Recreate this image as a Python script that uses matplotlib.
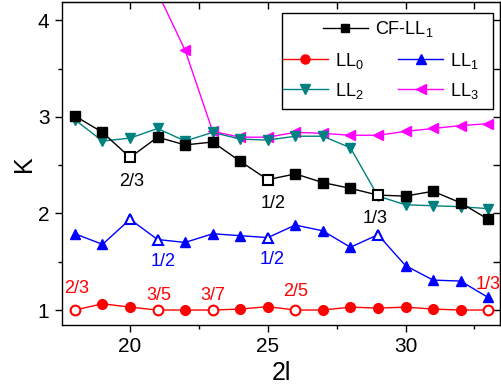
import matplotlib
matplotlib.use("Agg")
import matplotlib.pyplot as plt
from matplotlib.patches import Rectangle
from matplotlib.lines import Line2D
from matplotlib.ticker import MultipleLocator

plt.rcParams['font.family'] = ['Liberation Sans', 'DejaVu Sans']
plt.rcParams['mathtext.default'] = 'regular'

x_cf = [18, 19, 20, 21, 22, 23, 24, 25, 26, 27, 28, 29, 30, 31, 32, 33]
cf_ll1 = [3.01, 2.84, 2.58, 2.79, 2.71, 2.74, 2.54, 2.35, 2.41, 2.32, 2.26, 2.19, 2.18, 2.23, 2.11, 1.94]
cf_open = [20, 25, 29]

x_ll0 = [18, 19, 20, 21, 22, 23, 24, 25, 26, 27, 28, 29, 30, 31, 32, 33]
ll0 = [1.00, 1.065, 1.03, 1.00, 1.00, 1.00, 1.01, 1.035, 1.00, 1.00, 1.03, 1.02, 1.03, 1.01, 1.00, 1.00]
ll0_open = [18, 21, 23, 26, 33]

x_ll1 = [18, 19, 20, 21, 22, 23, 24, 25, 26, 27, 28, 29, 30, 31, 32, 33]
ll1 = [1.79, 1.68, 1.94, 1.73, 1.70, 1.79, 1.77, 1.75, 1.88, 1.82, 1.65, 1.78, 1.46, 1.31, 1.30, 1.13]
ll1_open = [20, 21, 25, 29]

x_ll2 = [18, 19, 20, 21, 22, 23, 24, 25, 26, 27, 28, 29, 30, 31, 32, 33]
ll2 = [2.97, 2.75, 2.78, 2.88, 2.75, 2.84, 2.77, 2.76, 2.80, 2.80, 2.68, 2.18, 2.09, 2.08, 2.07, 2.05]

x_ll3 = [21, 22, 23, 24, 25, 26, 27, 28, 29, 30, 31, 32, 33]
ll3 = [4.29, 3.69, 2.85, 2.79, 2.79, 2.84, 2.83, 2.81, 2.81, 2.85, 2.88, 2.91, 2.93]

# annotations: (text, x, y)
labels_red = [("2/3", 18.05, 1.22), ("3/5", 21.05, 1.15), ("3/7", 23.0, 1.15),
              ("2/5", 26.0, 1.19), ("1/3", 33.0, 1.26)]
labels_blue = [("1/2", 21.2, 1.50), ("1/2", 25.15, 1.52)]
labels_black = [("2/3", 20.05, 2.33), ("1/2", 25.2, 2.10), ("1/3", 28.9, 1.95)]

fig = plt.figure(figsize=(5.02, 3.86), dpi=100)
ax = fig.add_axes([62/502, 61/386, 438/502, 323/386])

lw = 1.0

def series(xs, ys, color, marker, ms, open_x=None, z=2):
    ax.plot(xs, ys, color=color, lw=lw, zorder=z)
    fx = [x for x in xs if not open_x or x not in open_x]
    fy = [y for x, y in zip(xs, ys) if not open_x or x not in open_x]
    ax.plot(fx, fy, ls='none', marker=marker, ms=ms, color=color, mec=color, zorder=z+0.5)
    if open_x:
        ox = [x for x in xs if x in open_x]
        oy = [y for x, y in zip(xs, ys) if x in open_x]
        ax.plot(ox, oy, ls='none', marker=marker, ms=ms, mfc='white', mec=color, mew=1.5, zorder=z+0.6)

series(x_ll3, ll3, '#FF00FF', '<', 7.5, z=2)
series(x_ll2, ll2, '#008080', 'v', 7.5, z=3)
series(x_cf, cf_ll1, 'black', 's', 6.5, cf_open, z=4)
series(x_ll1, ll1, '#0000FF', '^', 7.5, ll1_open, z=4)
series(x_ll0, ll0, '#FF0000', 'o', 7, ll0_open, z=4)

afs = 13
for t, x, y in labels_red:
    ax.text(x, y, t, color='#FF0000', fontsize=afs, ha='center', va='center')
for t, x, y in labels_blue:
    ax.text(x, y, t, color='#0000FF', fontsize=afs, ha='center', va='center')
for t, x, y in labels_black:
    ax.text(x, y, t, color='black', fontsize=afs, ha='center', va='center')

ax.set_xlim(17.53, 33.43)
ax.set_ylim(0.845, 4.19)
ax.xaxis.set_major_locator(MultipleLocator(5))
ax.xaxis.set_minor_locator(MultipleLocator(2.5))
ax.yaxis.set_major_locator(MultipleLocator(1))
ax.yaxis.set_minor_locator(MultipleLocator(0.5))
ax.tick_params(which='major', direction='out', length=5, width=1, labelsize=15, pad=4)
ax.tick_params(which='minor', direction='out', length=3, width=1)
for s in ax.spines.values():
    s.set_linewidth(1.0)

secx = ax.secondary_xaxis('top')
secx.xaxis.set_major_locator(MultipleLocator(5))
secx.xaxis.set_minor_locator(MultipleLocator(2.5))
secx.tick_params(which='both', direction='in', length=5, width=1, labeltop=False)
secy = ax.secondary_yaxis('right')
secy.yaxis.set_major_locator(MultipleLocator(1))
secy.yaxis.set_minor_locator(MultipleLocator(0.5))
secy.tick_params(which='both', direction='in', length=5, width=1, labelright=False)

ax.set_xlabel('2l', fontsize=18, labelpad=3)
ax.set_ylabel('K', fontsize=18, labelpad=1)

# legend
def h(color, marker, ms):
    return Line2D([], [], color=color, lw=lw, marker=marker, ms=ms)

lfs = 13
ax.add_patch(Rectangle((0.5016, 0.668), 0.4817, 0.299, transform=ax.transAxes,
                       fill=True, fc='white', ec='black', lw=1.0, zorder=10))
leg1 = ax.legend([h('black', 's', 6)], ['CF-LL$_1$'], loc='center',
                 bbox_to_anchor=(0.722, 0.915), frameon=False, fontsize=lfs,
                 handlelength=2.5, handletextpad=0.4, borderpad=0.2)
leg1.set_zorder(11)
ax.add_artist(leg1)
leg2 = ax.legend([h('#FF0000', 'o', 6.5), h('#008080', 'v', 7), h('#0000FF', '^', 7), h('#FF00FF', '<', 7)],
                 ['LL$_0$', 'LL$_2$', 'LL$_1$', 'LL$_3$'], ncol=2, loc='center',
                 bbox_to_anchor=(0.728, 0.772), frameon=False, fontsize=lfs,
                 handlelength=2.5, handletextpad=0.4, columnspacing=1.9, labelspacing=0.55,
                 borderpad=0.2)
leg2.set_zorder(11)

fig.savefig('out.png', dpi=100)
